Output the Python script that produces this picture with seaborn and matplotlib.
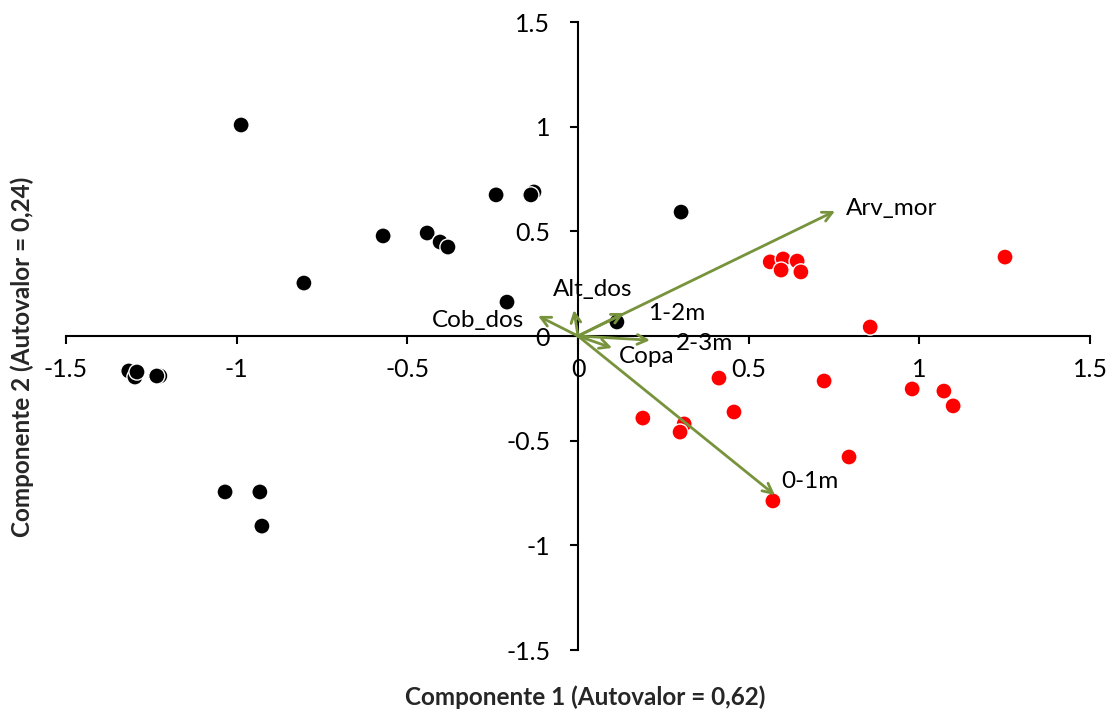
import matplotlib
matplotlib.use("Agg")
import matplotlib.pyplot as plt
import seaborn as sns
import pandas as pd

# Scores (sites)
black_x = [-1.316, -1.298, -1.292, -1.225, -1.234, -0.987, -0.803, -0.571, -0.442, -0.404,
           -0.381, -0.240, -0.129, -0.138, -0.208, 0.302, 0.114, -1.034, -0.932, -0.926]
black_y = [-0.167, -0.196, -0.172, -0.191, -0.191, 1.008, 0.253, 0.478, 0.492, 0.449,
           0.425, 0.674, 0.688, 0.674, 0.162, 0.592, 0.067, -0.745, -0.745, -0.908]
red_x = [0.563, 0.601, 0.642, 0.595, 0.653, 1.251, 0.856, 0.413, 0.721, 0.979,
         1.072, 1.099, 0.457, 0.190, 0.311, 0.299, 0.794, 0.571]
red_y = [0.354, 0.368, 0.358, 0.315, 0.306, 0.377, 0.043, -0.201, -0.215, -0.253,
         -0.263, -0.334, -0.363, -0.392, -0.420, -0.459, -0.578, -0.788]

# Variable loadings (arrows)
var_names = ["Arv_mor", "0-1m", "1-2m", "2-3m", "Copa", "Cob_dos", "Alt_dos"]
var_x = [0.753, 0.577, 0.135, 0.211, 0.100, -0.117, -0.012]
var_y = [0.597, -0.760, 0.110, -0.020, -0.057, 0.096, 0.124]

x_ticks = [-1.5, -1, -0.5, 0, 0.5, 1, 1.5]
y_ticks = [-1.5, -1, -0.5, 0, 0.5, 1, 1.5]

sns.set_style("white")
plt.rcParams['font.family'] = ['Lato', 'DejaVu Sans']

fig = plt.figure(figsize=(11.1, 7.11), dpi=100)
ax = fig.add_axes([66/1110, 61/711, 1024/1110, 628/711])

df = pd.DataFrame({
    "x": black_x + red_x,
    "y": black_y + red_y,
    "g": ["b"] * len(black_x) + ["r"] * len(red_x),
})
sns.scatterplot(data=df, x="x", y="y", hue="g", palette={"b": "black", "r": "#FF0000"},
                s=135, edgecolor="white", linewidth=1.0, legend=False, ax=ax, zorder=3)

green = "#77933C"
for vx, vy in zip(var_x, var_y):
    ax.annotate("", xy=(vx, vy), xytext=(0, 0),
                arrowprops=dict(arrowstyle="->,head_length=0.7,head_width=0.35",
                                color=green, lw=2.0, shrinkA=0, shrinkB=0),
                zorder=4)

label_pos = {
    "Arv_mor": (0.785, 0.61),
    "0-1m": (0.595, -0.695),
    "1-2m": (0.205, 0.107),
    "2-3m": (0.287, -0.035),
    "Copa": (0.12, -0.098),
    "Cob_dos": (-0.428, 0.074),
    "Alt_dos": (-0.073, 0.221),
}
for name in var_names:
    lx, ly = label_pos[name]
    ax.text(lx, ly, name, fontsize=17.5, ha="left", va="center", color="black", zorder=5)

ax.set_xlim(-1.5, 1.5)
ax.set_ylim(-1.5, 1.5)
ax.set_xticks(x_ticks)
ax.set_yticks(y_ticks)
ax.set_xticklabels([f"{t:g}" for t in x_ticks])
ax.set_yticklabels([f"{t:g}" for t in y_ticks])
ax.spines["left"].set_position(("data", 0))
ax.spines["bottom"].set_position(("data", 0))
ax.spines["top"].set_visible(False)
ax.spines["right"].set_visible(False)
for s in ["left", "bottom"]:
    ax.spines[s].set_color("black")
    ax.spines[s].set_linewidth(1.5)
ax.tick_params(axis="both", direction="out", length=6, width=1.5, labelsize=18,
               colors="black", bottom=True, left=True)
ax.tick_params(axis="x", pad=10)
ax.tick_params(axis="y", pad=14)
ax.set_xlabel("")
ax.set_ylabel("")

fig.text(585/1110, 1 - 697/711, "Componente 1 (Autovalor = 0,62)", ha="center", va="center",
         fontsize=17.5, fontweight="bold")
fig.text(22/1110, 1 - 357/711, "Componente 2 (Autovalor = 0,24)", ha="center", va="center",
         fontsize=17.5, fontweight="bold", rotation=90)

fig.savefig("out.png", dpi=100)
